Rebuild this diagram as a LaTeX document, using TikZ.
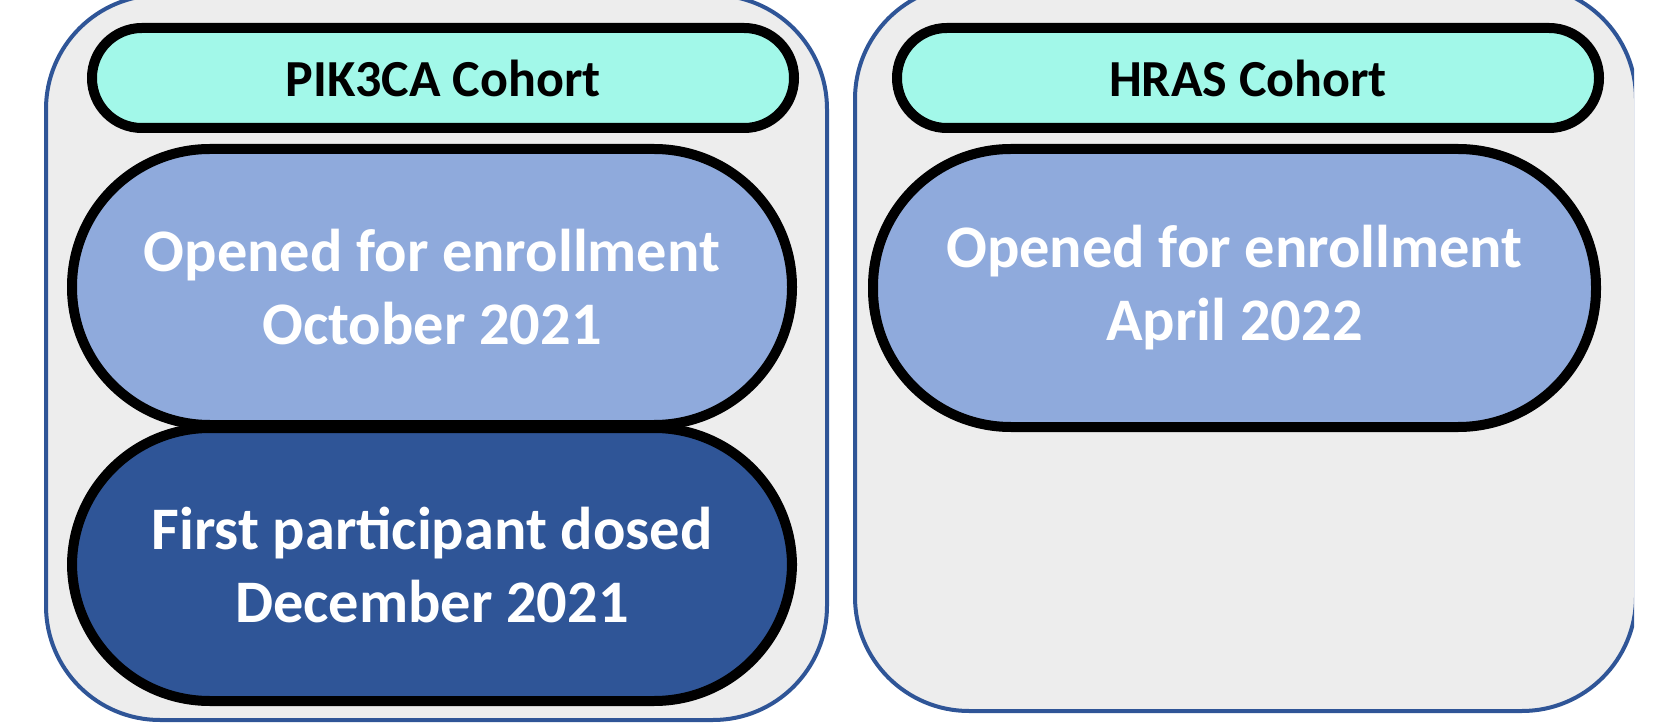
\documentclass[tikz,border=0pt]{standalone}
\usepackage{fontspec}
\setmainfont{Carlito}

\definecolor{panelgray}{HTML}{EDEDED}
\definecolor{panelblue}{HTML}{2F5597}
\definecolor{cohortaqua}{HTML}{A2F8E9}
\definecolor{openblue}{HTML}{8FAADC}
\definecolor{dosedblue}{HTML}{2F5597}

\begin{document}
\begin{tikzpicture}[x=0.5pt, y=-0.5pt,
  panel/.style={draw=panelblue, line width=2pt, fill=panelgray, rounded corners=57pt},
  cohort/.style={draw=black, line width=5pt, fill=cohortaqua, inner sep=0pt,
    minimum width=351pt, minimum height=50pt, rounded corners=24.9pt,
    font=\bfseries\fontsize{26}{31}\selectfont},
  stage/.style={draw=black, line width=5pt, inner sep=0pt, text=white, align=center,
    minimum width=360pt, minimum height=138pt, rounded corners=68.9pt,
    font=\bfseries\fontsize{30.2}{36.5}\selectfont}]

  \useasboundingbox (0,0) rectangle (1661,727);

  % PIK3CA column
  \draw[panel] (46,-5) rectangle (827,720);
  \node[cohort] (pikhead) at (443,78) {PIK3CA Cohort};
  \node[stage, fill=openblue] (pikopen) at (432,287) {Opened for enrollment\\October 2021};
  \node[stage, fill=dosedblue, minimum height=136.5pt] (pikdosed) at (432,564.5) {First participant dosed\\December 2021};

  % HRAS column, right border cut off
  \begin{scope}
    \clip (0,-20) rectangle (1634,727);
    \draw[panel] (855,-15) rectangle (1636,711);
  \end{scope}
  \node[cohort] (hrashead) at (1248,78) {HRAS Cohort};
  \node[stage, fill=openblue, minimum width=361.5pt, minimum height=139pt] (hrasopen) at (1234.5,288) {Opened for enrollment\\April 2022};

\end{tikzpicture}
\end{document}
